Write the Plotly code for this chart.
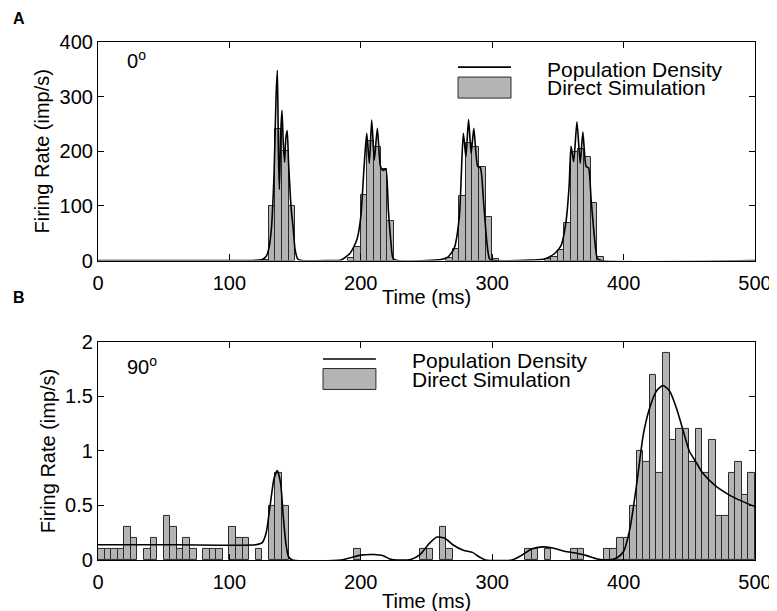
import plotly.graph_objects as go

# ---- panel A (0 deg) : histogram of direct simulation, 5 ms bins ----
binA = [125, 130, 135, 140, 145,
        190, 195, 200, 205, 210, 215, 220,
        265, 270, 275, 280, 285, 290, 295, 300,
        340, 345, 350, 355, 360, 365, 370, 375, 380]
rateA = [2, 100, 240, 200, 100,
         4, 25, 120, 218, 208, 168, 73,
         5, 22, 118, 215, 207, 172, 79, 3,
         3, 7, 20, 69, 198, 205, 189, 106, 6]

# population density curve, panel A
tA = [0, 110, 120, 125, 128, 130, 132, 134, 135.5, 136.5, 137.3, 138, 139, 140, 141, 142,
      143, 144, 145, 146, 147, 148.5, 150, 152, 155,
      175, 185, 192, 197, 200, 202.5, 204.5, 206.5, 208.3, 210.3, 212.6, 215, 217, 219,
      221, 223, 224.5, 228,
      250, 261, 266, 271, 275, 278, 280, 282, 284, 286, 289, 291, 293.5, 296, 298, 301,
      320, 330, 340, 347.5, 352.5, 356, 358.5, 360, 362, 364.5, 367, 369, 371.5, 373.3,
      375.3, 378, 380, 383, 500]
densA = [0, 0, 0.5, 2, 8, 22, 60, 160, 300, 348, 200, 130, 230, 275, 215, 180,
         225, 238, 180, 135, 95, 60, 20, 3, 0,
         0, 1, 14, 38, 80, 172, 233, 178, 257, 184, 242, 172, 165, 168,
         92, 32, 4, 0,
         0, 2, 6, 22, 80, 233, 190, 258, 196, 242, 172, 170, 105, 32, 3, 0,
         0, 1, 3, 13, 28, 68, 135, 209, 181, 254, 178, 235, 172, 170,
         111, 38, 4, 0, 0]

# ---- panel B (90 deg) ----
binB = [0, 5, 10, 15, 20, 25, 35, 40, 50, 55, 60, 65, 70, 80, 85, 90, 100, 105, 110,
        120, 130, 135, 140, 195, 245, 250, 260, 265, 325, 330, 340, 360, 365,
        385, 390, 395, 400, 405, 410, 415, 420, 425, 430, 435, 440, 445, 450, 455,
        460, 465, 470, 475, 480, 485, 490, 495]
rateB = [0.1, 0.1, 0.1, 0.1, 0.3, 0.2, 0.1, 0.2, 0.4, 0.3, 0.1, 0.2, 0.1, 0.1, 0.1, 0.1,
         0.3, 0.2, 0.2, 0.1, 0.5, 0.8, 0.5, 0.1, 0.1, 0.1, 0.3, 0.1, 0.1, 0.1, 0.1, 0.1,
         0.1, 0.1, 0.1, 0.2, 0.2, 0.5, 1.0, 0.9, 1.7, 0.8, 1.9, 1.1, 1.2, 1.2, 0.9, 1.2,
         0.8, 1.1, 0.4, 0.4, 0.8, 0.9, 0.6, 0.8]

tB = [0, 60, 120, 125, 128, 131, 134, 136.5, 139, 141, 143, 145, 148, 185, 192, 200,
      210, 217, 222, 228, 238, 245, 252, 258, 264, 270, 278, 285, 290, 295, 315, 322,
      330, 338, 346, 355, 365, 372, 380, 388, 395, 400, 405, 410, 415, 420, 425, 430,
      435, 440, 445, 450, 455, 460, 470, 480, 490, 500]
densB = [0.14, 0.14, 0.14, 0.16, 0.25, 0.5, 0.75, 0.82, 0.7, 0.4, 0.15, 0.03, 0, 0, 0.02,
         0.045, 0.05, 0.04, 0.01, 0, 0.005, 0.05, 0.15, 0.21, 0.2, 0.14, 0.09, 0.07, 0.03,
         0, 0, 0.04, 0.1, 0.12, 0.11, 0.08, 0.06, 0.04, 0.01, 0, 0.02, 0.08, 0.3, 0.7,
         1.15, 1.4, 1.55, 1.6, 1.55, 1.4, 1.2, 1.0, 0.9, 0.8, 0.68, 0.6, 0.54, 0.49]

BAR_FILL = "#b4b4b4"
BAR_EDGE = "#2a2a2a"
FONT = "Liberation Sans, Arial, sans-serif"
FS = 20

fig = go.Figure()

fig.add_trace(go.Bar(x=[b + 2.5 for b in binA], y=rateA, width=5,
                     marker=dict(color=BAR_FILL, line=dict(color=BAR_EDGE, width=1)),
                     xaxis="x", yaxis="y", showlegend=False))
fig.add_trace(go.Scatter(x=tA, y=densA, mode="lines",
                         line=dict(color="black", width=1.6, shape="spline", smoothing=0.6),
                         xaxis="x", yaxis="y", showlegend=False))
fig.add_trace(go.Bar(x=[b + 2.5 for b in binB], y=rateB, width=5,
                     marker=dict(color=BAR_FILL, line=dict(color=BAR_EDGE, width=1)),
                     xaxis="x2", yaxis="y2", showlegend=False))
fig.add_trace(go.Scatter(x=tB, y=densB, mode="lines",
                         line=dict(color="black", width=1.6, shape="spline", smoothing=0.6),
                         xaxis="x2", yaxis="y2", showlegend=False))

axis_style = dict(showline=True, linecolor="black", linewidth=1.2, mirror="ticks",
                  ticks="inside", ticklen=6, tickcolor="black", showgrid=False,
                  zeroline=False, automargin=False,
                  tickfont=dict(family=FONT, size=FS, color="black"))

# page body has an 8px margin, so the figure is sized to end at the window edge
fig.update_layout(
    width=769, height=603,
    margin=dict(l=90, r=22, t=34, b=51),
    paper_bgcolor="white", plot_bgcolor="white",
    bargap=0, showlegend=False,
    font=dict(family=FONT, size=FS, color="black"),
    xaxis=dict(domain=[0, 1], range=[0, 500], tickvals=[0, 100, 200, 300, 400, 500],
               anchor="y", ticklabelstandoff=4, **axis_style),
    yaxis=dict(domain=[0.578, 1], range=[0, 400], tickvals=[0, 100, 200, 300, 400],
               anchor="x", title=dict(text="Firing Rate (imp/s)", standoff=4,
                                      font=dict(family=FONT, size=FS)), **axis_style),
    xaxis2=dict(domain=[0, 1], range=[0, 500], tickvals=[0, 100, 200, 300, 400, 500],
                anchor="y2", ticklabelstandoff=4, **axis_style),
    yaxis2=dict(domain=[0, 0.421], range=[0, 2], tickvals=[0, 0.5, 1, 1.5, 2],
                ticktext=["0", "0.5", "1", "1.5", "2"],
                anchor="x2", title=dict(text="Firing Rate (imp/s)", standoff=4,
                                        font=dict(family=FONT, size=FS)), **axis_style),
)

# x-axis titles
fig.add_annotation(xref="x domain", yref="y domain", x=0.5, y=-0.167, text="Time (ms)",
                   showarrow=False, yanchor="middle", font=dict(family=FONT, size=FS))
fig.add_annotation(xref="x2 domain", yref="y2 domain", x=0.5, y=-0.188, text="Time (ms)",
                   showarrow=False, yanchor="middle", font=dict(family=FONT, size=FS))

# legends drawn in axis-domain coordinates (MATLAB style, no box)
legends = [("x domain", "y domain", 0.548, 0.6286, 0.885, 0.8396, 0.7434, 0.680, 0.873, 0.7906),
           ("x2 domain", "y2 domain", 0.3425, 0.423, 0.922, 0.878, 0.782, 0.475, 0.913, 0.826)]
for xr, yr, x0, x1, yl, yb0, yb1, xt, yt1, yt2 in legends:
    fig.add_shape(type="line", xref=xr, yref=yr, x0=x0, x1=x1, y0=yl, y1=yl,
                  line=dict(color="black", width=1.6))
    fig.add_shape(type="rect", xref=xr, yref=yr, x0=x0, x1=x1, y0=yb0, y1=yb1,
                  fillcolor=BAR_FILL, line=dict(color=BAR_EDGE, width=1))
    fig.add_annotation(xref=xr, yref=yr, x=xt, y=yt1, text="Population Density",
                       showarrow=False, xanchor="left", yanchor="middle",
                       font=dict(family=FONT, size=21))
    fig.add_annotation(xref=xr, yref=yr, x=xt, y=yt2, text="Direct Simulation",
                       showarrow=False, xanchor="left", yanchor="middle",
                       font=dict(family=FONT, size=21))

fig.add_annotation(xref="x domain", yref="y domain", x=0.041, y=0.919, text="0<sup>o</sup>",
                   showarrow=False, xanchor="left", yanchor="middle",
                   font=dict(family=FONT, size=FS))
fig.add_annotation(xref="x2 domain", yref="y2 domain", x=0.041, y=0.894, text="90<sup>o</sup>",
                   showarrow=False, xanchor="left", yanchor="middle",
                   font=dict(family=FONT, size=FS))

# panel letters
fig.add_annotation(xref="paper", yref="paper", x=-0.133, y=1.046, text="<b>A</b>",
                   showarrow=False, xanchor="left", yanchor="middle",
                   font=dict(family=FONT, size=16))
fig.add_annotation(xref="paper", yref="paper", x=-0.133, y=0.506, text="<b>B</b>",
                   showarrow=False, xanchor="left", yanchor="middle",
                   font=dict(family=FONT, size=16))

fig.write_html("out.html")
